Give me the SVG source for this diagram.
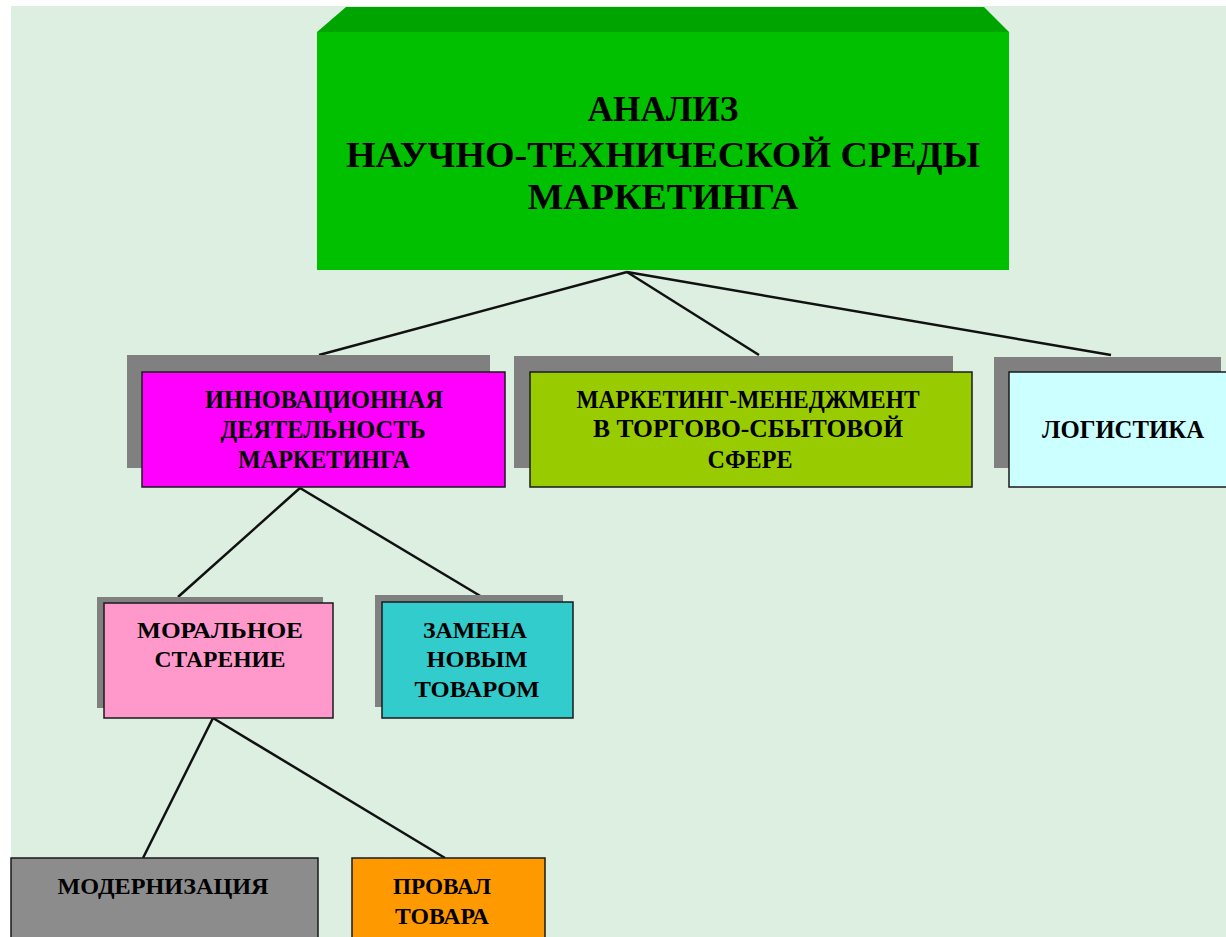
<svg xmlns="http://www.w3.org/2000/svg" width="1226" height="937" viewBox="0 0 1226 937">
<style>
.t{font-family:"Liberation Serif","Times New Roman",serif;font-weight:bold;fill:#000;text-anchor:middle}
.t1{font-size:35px}
.t2{font-size:26px}
.t3{font-size:24px}
.sh{fill:#808080}
.bx{stroke:#1a1a1a;stroke-width:1.5}
.ln{stroke:#111;stroke-width:2.5;fill:none}
</style>
<rect x="0" y="0" width="1226" height="937" fill="#ffffff"/>
<rect x="11" y="6" width="1215" height="931" fill="#ddefe1"/>
<g id="connectors">
<line class="ln" x1="627" y1="272" x2="319" y2="355"/>
<line class="ln" x1="627" y1="272" x2="759" y2="355"/>
<line class="ln" x1="627" y1="272" x2="1111" y2="355"/>
<line class="ln" x1="300" y1="488" x2="178" y2="597"/>
<line class="ln" x1="300" y1="488" x2="482" y2="597"/>
<line class="ln" x1="213" y1="718" x2="143" y2="858"/>
<line class="ln" x1="213" y1="718" x2="445" y2="858"/>
</g>
<g id="root">
<polygon points="317,32 346,7 984,7 1009,32" fill="#00a400"/>
<rect x="317" y="32" width="692" height="238" fill="#00c000"/>
<text class="t t1" x="663" y="121" textLength="151" lengthAdjust="spacingAndGlyphs">АНАЛИЗ</text>
<text class="t t1" x="663" y="167" textLength="634" lengthAdjust="spacingAndGlyphs">НАУЧНО-ТЕХНИЧЕСКОЙ СРЕДЫ</text>
<text class="t t1" x="663" y="209" textLength="271" lengthAdjust="spacingAndGlyphs">МАРКЕТИНГА</text>
</g>
<g id="innov">
<rect class="sh" x="127" y="355" width="363" height="113"/>
<rect class="bx" x="142" y="372" width="363" height="115" fill="#ff00ff"/>
<text class="t t2" x="324" y="408" textLength="238" lengthAdjust="spacingAndGlyphs">ИННОВАЦИОННАЯ</text>
<text class="t t2" x="323" y="438" textLength="205" lengthAdjust="spacingAndGlyphs">ДЕЯТЕЛЬНОСТЬ</text>
<text class="t t2" x="324" y="468" textLength="172" lengthAdjust="spacingAndGlyphs">МАРКЕТИНГА</text>
</g>
<g id="mm">
<rect class="sh" x="514" y="356" width="439" height="112"/>
<rect class="bx" x="530" y="372" width="442" height="115" fill="#99cc00"/>
<text class="t t2" x="748" y="408" textLength="343" lengthAdjust="spacingAndGlyphs">МАРКЕТИНГ-МЕНЕДЖМЕНТ</text>
<text class="t t2" x="748" y="437" textLength="310" lengthAdjust="spacingAndGlyphs">В ТОРГОВО-СБЫТОВОЙ</text>
<text class="t t2" x="750" y="468" textLength="85" lengthAdjust="spacingAndGlyphs">СФЕРЕ</text>
</g>
<g id="log">
<rect class="sh" x="994" y="357" width="227" height="111"/>
<rect class="bx" x="1009" y="372" width="220" height="115" fill="#ccffff"/>
<text class="t t2" x="1123" y="438" textLength="162" lengthAdjust="spacingAndGlyphs">ЛОГИСТИКА</text>
</g>
<g id="moral">
<rect class="sh" x="97" y="597" width="226" height="111"/>
<rect class="bx" x="104" y="603" width="229" height="115" fill="#ff99cc"/>
<text class="t t3" x="220" y="638" textLength="166" lengthAdjust="spacingAndGlyphs">МОРАЛЬНОЕ</text>
<text class="t t3" x="220" y="667" textLength="131" lengthAdjust="spacingAndGlyphs">СТАРЕНИЕ</text>
</g>
<g id="zamena">
<rect class="sh" x="375" y="595" width="188" height="112"/>
<rect class="bx" x="382" y="602" width="191" height="116" fill="#33cccc"/>
<text class="t t3" x="475" y="638" textLength="104" lengthAdjust="spacingAndGlyphs">ЗАМЕНА</text>
<text class="t t3" x="477" y="667" textLength="101" lengthAdjust="spacingAndGlyphs">НОВЫМ</text>
<text class="t t3" x="477" y="697" textLength="125" lengthAdjust="spacingAndGlyphs">ТОВАРОМ</text>
</g>
<g id="modern">
<rect class="bx" x="11" y="858" width="307" height="85" fill="#8c8c8c"/>
<text class="t t3" x="163" y="894" textLength="211" lengthAdjust="spacingAndGlyphs">МОДЕРНИЗАЦИЯ</text>
</g>
<g id="proval">
<rect class="bx" x="352" y="858" width="193" height="85" fill="#ff9900"/>
<text class="t t3" x="442" y="894" textLength="98" lengthAdjust="spacingAndGlyphs">ПРОВАЛ</text>
<text class="t t3" x="442" y="924" textLength="94" lengthAdjust="spacingAndGlyphs">ТОВАРА</text>
</g>
</svg>
